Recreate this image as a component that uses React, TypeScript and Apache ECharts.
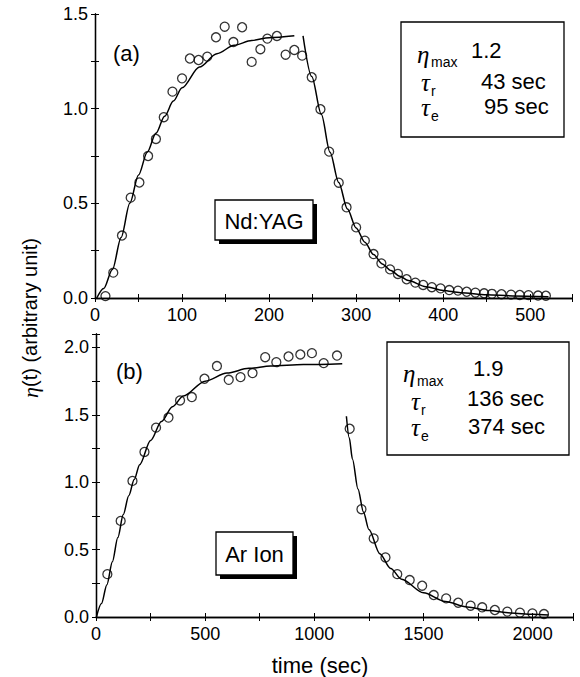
import React, { useEffect, useRef } from "react";
import * as echarts from "echarts";

// Panel (a) Nd:YAG — measured points
const ndTime = [12,21,31,41,51,61,70,79,89,100,109,119,129,139,149,159,169,180,190,198,209,219,229,238,249,259,269,280,289,300,310,320,329,339,348,358,368,377,387,397,407,417,427,437,447,456,467,478,488,498,509,518];
const ndEta = [0.01,0.134,0.33,0.53,0.61,0.75,0.84,0.955,1.09,1.16,1.265,1.257,1.275,1.377,1.433,1.352,1.43,1.247,1.314,1.37,1.384,1.285,1.31,1.28,1.166,0.997,0.773,0.609,0.479,0.373,0.303,0.232,0.183,0.151,0.127,0.099,0.081,0.069,0.057,0.051,0.042,0.039,0.033,0.028,0.025,0.022,0.02,0.018,0.016,0.015,0.013,0.012];
// Panel (a) fitted curves
const ndRiseT = [2,10,20,30,40,50,60,70,80,90,100,120,140,160,180,200,229];
const ndRiseV = [0,0.05,0.15,0.32,0.5,0.65,0.77,0.87,0.96,1.04,1.11,1.22,1.29,1.335,1.36,1.375,1.385];
const ndDecayT = [239,249,260,270,280,290,300,310,320,330,340,350,360,380,400,420,450,480,521];
const ndDecayV = [1.385,1.17,0.97,0.77,0.61,0.47,0.37,0.295,0.23,0.18,0.145,0.115,0.092,0.06,0.04,0.028,0.017,0.011,0.006];

// Panel (b) Ar Ion — measured points
const arTime = [52,113,167,222,275,332,385,439,497,554,608,662,717,775,826,882,936,989,1043,1104,1162,1216,1272,1326,1380,1437,1494,1547,1604,1659,1716,1769,1827,1884,1942,1999,2052];
const arEta = [0.318,0.713,1.01,1.225,1.405,1.48,1.607,1.632,1.768,1.862,1.76,1.78,1.81,1.928,1.891,1.933,1.948,1.958,1.884,1.94,1.397,0.8,0.583,0.442,0.318,0.274,0.232,0.163,0.138,0.106,0.084,0.072,0.052,0.04,0.032,0.027,0.022];
// Panel (b) fitted curves
const arRiseT = [2,25,50,75,100,125,150,175,200,250,300,350,400,500,600,700,800,950,1128];
const arRiseV = [0,0.1,0.24,0.41,0.59,0.76,0.9,1.02,1.13,1.31,1.45,1.56,1.64,1.75,1.81,1.845,1.862,1.873,1.88];
const arDecayT = [1147,1160,1175,1200,1225,1250,1300,1350,1400,1500,1600,1700,1800,1900,2000,2073];
const arDecayV = [1.49,1.33,1.17,0.95,0.78,0.65,0.47,0.36,0.28,0.18,0.115,0.075,0.048,0.03,0.02,0.015];

// Tick labels
const ndXLabels = [0, 100, 200, 300, 400, 500];
const ndYLabels = [0, 0.5, 1.0, 1.5];
const arXLabels = [0, 500, 1000, 1500, 2000];
const arYLabels = [0, 0.5, 1.0, 1.5, 2.0];

const zip = (a: number[], b: number[]) => a.map((v, i) => [v, b[i]]);
const near = (v: number, list: number[]) => list.some((l) => Math.abs(l - v) < 1e-6);

const SANS = '"Liberation Sans", Arial, sans-serif';
const SERIF = '"Liberation Serif", "Times New Roman", serif';

function axisBase(extra: any) {
  return {
    type: "value",
    axisLine: { show: true, lineStyle: { color: "#000", width: 1.3 } },
    axisTick: { show: true, inside: true, length: 4, lineStyle: { color: "#000", width: 1 } },
    splitLine: { show: false },
    ...extra,
  };
}

export default function App() {
  const ref = useRef<HTMLDivElement>(null);
  useEffect(() => {
    if (!ref.current) return;
    const chart = echarts.init(ref.current, null, { renderer: "svg" });
    const labelStyle = { color: "#000", fontSize: 18, fontFamily: SANS };
    const scatterStyle = { color: "rgba(0,0,0,0)", borderColor: "#000", borderWidth: 1.3 };
    const lineStyle = { color: "#000", width: 1.5 };

    const txt = (x: number, y: number, text: string, font: string, align = "left") => ({
      type: "text",
      z: 12,
      x,
      y,
      style: { text, font, fill: "#000", align, verticalAlign: "middle" },
    });
    const legendBox = (x: number, y: number, w: number, h: number, rows: any[]) => [
      { type: "rect", z: 10, shape: { x, y, width: w, height: h }, style: { fill: "#fff", stroke: "#000", lineWidth: 1.3 } },
      ...rows,
    ];
    const tagBox = (x: number, y: number, w: number, h: number, label: string) => [
      { type: "rect", z: 9, shape: { x: x + 4, y: y + 4, width: w, height: h }, style: { fill: "#000" } },
      { type: "rect", z: 10, shape: { x, y, width: w, height: h }, style: { fill: "#fff", stroke: "#000", lineWidth: 1.3 } },
      txt(x + w / 2, y + h / 2 + 1, label, `22px ${SANS}`, "center"),
    ];

    const option: any = {
      animation: false,
      backgroundColor: "#fff",
      grid: [
        { left: 95, top: 14, width: 477, height: 284 },
        { left: 96, top: 334, width: 477, height: 283 },
      ],
      xAxis: [
        axisBase({
          gridIndex: 0, position: "bottom", min: 0, max: 548, interval: 50,
          axisLabel: { ...labelStyle, margin: 8, formatter: (v: number) => (near(v, ndXLabels) ? String(v) : "") },
        }),
        axisBase({ gridIndex: 0, position: "top", min: 0, max: 548, interval: 50, axisLabel: { show: false } }),
        axisBase({
          gridIndex: 1, position: "bottom", min: 0, max: 2185, interval: 250,
          axisLabel: { ...labelStyle, margin: 8, formatter: (v: number) => (near(v, arXLabels) ? String(v) : "") },
        }),
        axisBase({ gridIndex: 1, position: "top", min: 0, max: 2185, interval: 250, axisLabel: { show: false } }),
      ],
      yAxis: [
        axisBase({
          gridIndex: 0, position: "left", min: 0, max: 1.5, interval: 0.25,
          axisLabel: { ...labelStyle, margin: 7, formatter: (v: number) => (near(v, ndYLabels) ? v.toFixed(1) : "") },
        }),
        axisBase({ gridIndex: 0, position: "right", min: 0, max: 1.5, interval: 0.25, axisLabel: { show: false } }),
        axisBase({
          gridIndex: 1, position: "left", min: 0, max: 2.1, interval: 0.25,
          axisLabel: { ...labelStyle, margin: 7, formatter: (v: number) => (near(v, arYLabels) ? v.toFixed(1) : "") },
        }),
        axisBase({ gridIndex: 1, position: "right", min: 0, max: 2.1, interval: 0.25, axisLabel: { show: false } }),
      ],
      series: [
        { type: "line", xAxisIndex: 0, yAxisIndex: 0, data: zip(ndRiseT, ndRiseV), showSymbol: false, smooth: 0.3, smoothMonotone: "x", lineStyle },
        { type: "line", xAxisIndex: 0, yAxisIndex: 0, data: zip(ndDecayT, ndDecayV), showSymbol: false, smooth: 0.3, smoothMonotone: "x", lineStyle },
        { type: "scatter", xAxisIndex: 0, yAxisIndex: 0, data: zip(ndTime, ndEta), symbol: "circle", symbolSize: 9, itemStyle: scatterStyle },
        { type: "line", xAxisIndex: 2, yAxisIndex: 2, data: zip(arRiseT, arRiseV), showSymbol: false, smooth: 0.3, smoothMonotone: "x", lineStyle },
        { type: "line", xAxisIndex: 2, yAxisIndex: 2, data: zip(arDecayT, arDecayV), showSymbol: false, smooth: 0.3, smoothMonotone: "x", lineStyle },
        { type: "scatter", xAxisIndex: 2, yAxisIndex: 2, data: zip(arTime, arEta), symbol: "circle", symbolSize: 9, itemStyle: scatterStyle },
      ],
      graphic: [
        txt(113, 53, "(a)", `22px ${SANS}`),
        txt(116, 371, "(b)", `22px ${SANS}`),
        ...legendBox(401, 22, 163, 115, [
          txt(417, 54, "η", `italic 25px ${SERIF}`),
          txt(431, 62, "max", `14px ${SANS}`),
          txt(471, 50, "1.2", `22px ${SANS}`),
          txt(421, 82, "τ", `italic 25px ${SERIF}`),
          txt(431, 91, "r", `14px ${SANS}`),
          txt(481, 81, "43 sec", `22px ${SANS}`),
          txt(421, 107, "τ", `italic 25px ${SERIF}`),
          txt(431, 116, "e", `14px ${SANS}`),
          txt(484, 106, "95 sec", `22px ${SANS}`),
        ]),
        ...legendBox(387, 342, 182, 113, [
          txt(403, 373, "η", `italic 25px ${SERIF}`),
          txt(417, 381, "max", `14px ${SANS}`),
          txt(473, 368, "1.9", `22px ${SANS}`),
          txt(411, 401, "τ", `italic 25px ${SERIF}`),
          txt(421, 410, "r", `14px ${SANS}`),
          txt(467, 398, "136 sec", `22px ${SANS}`),
          txt(411, 427, "τ", `italic 25px ${SERIF}`),
          txt(421, 436, "e", `14px ${SANS}`),
          txt(468, 426, "374 sec", `22px ${SANS}`),
        ]),
        ...tagBox(215, 200, 98, 40, "Nd:YAG"),
        ...tagBox(216, 532, 77, 43, "Ar Ion"),
        {
          type: "text",
          z: 12,
          x: 320,
          y: 665,
          style: { text: "time (sec)", font: `22px ${SANS}`, fill: "#000", align: "center", verticalAlign: "middle" },
        },
        {
          type: "text",
          z: 12,
          x: 30,
          y: 318,
          rotation: Math.PI / 2,
          style: {
            text: "{e|η}(t) (arbitrary unit)",
            font: `20px ${SANS}`,
            fill: "#000",
            align: "center",
            verticalAlign: "middle",
            rich: { e: { fontFamily: SERIF, fontStyle: "italic", fontSize: 22, fill: "#000" } },
          },
        },
      ],
    };
    chart.setOption(option);
    return () => chart.dispose();
  }, []);
  return (
    <div
      ref={ref}
      style={{ position: "fixed", left: 0, top: 0, width: 580, height: 677, background: "#fff" }}
    />
  );
}
